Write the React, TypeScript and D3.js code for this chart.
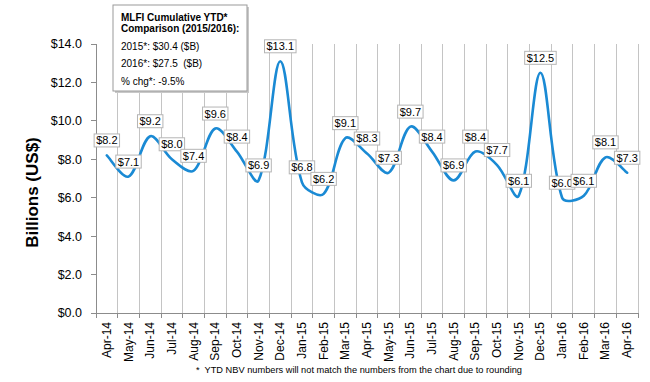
import React, { useEffect, useRef } from "react";
import * as d3 from "d3";

const months = ["Apr-14","May-14","Jun-14","Jul-14","Aug-14","Sep-14","Oct-14","Nov-14","Dec-14","Jan-15","Feb-15","Mar-15","Apr-15","May-15","Jun-15","Jul-15","Aug-15","Sep-15","Oct-15","Nov-15","Dec-15","Jan-16","Feb-16","Mar-16","Apr-16"];
const values = [8.2,7.1,9.2,8.0,7.4,9.6,8.4,6.9,13.1,6.8,6.2,9.1,8.3,7.3,9.7,8.4,6.9,8.4,7.7,6.1,12.5,6.0,6.1,8.1,7.3];
const yTicks = [0,2,4,6,8,10,12,14];
const legendTitle = ["MLFI Cumulative YTD*", "Comparison (2015/2016):"];
const legendLines = ["2015*: $30.4 ($B)", "2016*: $27.5  ($B)", "% chg*: -9.5%"];
const yTitle = "Billions (US$)";
const footnote = "*  YTD NBV numbers will not match the numbers from the chart due to rounding";

// Excel-style smoothed line: Bezier segments with chord-weighted tangents
function smoothPath(pts: [number, number][]) {
  const p = d3.path();
  const n = pts.length;
  const dist = (a: [number, number], b: [number, number]) => Math.hypot(b[0] - a[0], b[1] - a[1]);
  p.moveTo(pts[0][0], pts[0][1]);
  for (let i = 0; i < n - 1; i++) {
    const p0 = pts[Math.max(0, i - 1)], p1 = pts[i], p2 = pts[i + 1], p3 = pts[Math.min(n - 1, i + 2)];
    const d01 = dist(p0, p1), d12 = dist(p1, p2), d23 = dist(p2, p3);
    const f1 = d01 + d12 > 0 ? d12 / (d01 + d12) : 0.5;
    const f2 = d12 + d23 > 0 ? d12 / (d12 + d23) : 0.5;
    const k1 = i === 0 ? 1 / 6 : f1 / 3;
    const k2 = i + 2 > n - 1 ? 1 / 6 : f2 / 3;
    const c1x = p1[0] + (p2[0] - p0[0]) * k1, c1y = p1[1] + (p2[1] - p0[1]) * k1;
    const c2x = p2[0] - (p3[0] - p1[0]) * k2, c2y = p2[1] - (p3[1] - p1[1]) * k2;
    p.bezierCurveTo(c1x, c1y, c2x, c2y, p2[0], p2[1]);
  }
  return p.toString();
}

export default function App() {
  const ref = useRef<SVGSVGElement>(null);
  useEffect(() => {
    const svg = d3.select(ref.current);
    svg.selectAll("*").remove();
    const W = 650, H = 382;
    const left = 96, right = 638, top = 44, bottom = 313;
    const font = "Liberation Sans, Arial, sans-serif";
    const x = d3.scaleBand<string>().domain(months).range([left, right]).padding(0);
    const y = d3.scaleLinear().domain([0, 14]).range([bottom, top]);
    const cx = (m: string) => (x(m) as number) + x.bandwidth() / 2;

    svg.append("rect").attr("width", W).attr("height", H).attr("fill", "#fff");

    const bounds = months.map((m) => (x(m) as number) + x.bandwidth());
    svg.append("g").selectAll("line").data(bounds).join("line")
      .attr("x1", (d) => d).attr("x2", (d) => d)
      .attr("y1", top).attr("y2", bottom)
      .attr("stroke", "#c4c4c4").attr("stroke-width", 1).attr("shape-rendering", "crispEdges");

    const axisColor = "#8c8c8c";
    svg.append("line").attr("x1", left).attr("x2", left).attr("y1", top).attr("y2", bottom)
      .attr("stroke", axisColor).attr("shape-rendering", "crispEdges");
    svg.append("line").attr("x1", left).attr("x2", right).attr("y1", bottom).attr("y2", bottom)
      .attr("stroke", axisColor).attr("shape-rendering", "crispEdges");
    svg.append("g").selectAll("line").data(yTicks).join("line")
      .attr("x1", left - 5).attr("x2", left).attr("y1", (d) => y(d)).attr("y2", (d) => y(d))
      .attr("stroke", axisColor).attr("shape-rendering", "crispEdges");
    svg.append("g").selectAll("line").data([left, ...bounds]).join("line")
      .attr("x1", (d) => d).attr("x2", (d) => d).attr("y1", bottom).attr("y2", bottom + 5)
      .attr("stroke", axisColor).attr("shape-rendering", "crispEdges");

    svg.append("g").selectAll("text").data(yTicks).join("text")
      .attr("x", left - 14).attr("y", (d) => y(d)).attr("dy", "0.35em")
      .attr("text-anchor", "end").attr("font-family", font).attr("font-size", 12.5)
      .attr("fill", "#000").text((d) => "$" + d.toFixed(1));

    svg.append("g").selectAll("text").data(months).join("text")
      .attr("transform", (d) => `translate(${cx(d) + 4},${bottom + 9}) rotate(-90)`)
      .attr("text-anchor", "end").attr("font-family", font).attr("font-size", 12)
      .attr("fill", "#000").text((d) => d);

    svg.append("text")
      .attr("transform", `translate(38,${(top + bottom) / 2 + 14}) rotate(-90)`)
      .attr("text-anchor", "middle").attr("font-family", font).attr("font-size", 17)
      .attr("font-weight", "bold").attr("fill", "#000").text(yTitle);

    const pts: [number, number][] = values.map((v, i) => [cx(months[i]), y(v)]);
    svg.append("path").attr("d", smoothPath(pts))
      .attr("fill", "none").attr("stroke", "#1a8ad4").attr("stroke-width", 2.6)
      .attr("stroke-linecap", "round");

    const lg = svg.append("g");
    values.forEach((v, i) => {
      const px = cx(months[i]);
      const py = y(v) - 15;
      const g = lg.append("g");
      const rect = g.append("rect");
      const t = g.append("text").attr("x", px).attr("y", py).attr("dy", "0.36em")
        .attr("text-anchor", "middle").attr("font-family", font).attr("font-size", 11)
        .attr("fill", "#000").text("$" + v.toFixed(1));
      const w = (t.node() as SVGTextElement).getComputedTextLength() + 4;
      rect.attr("x", px - w / 2).attr("y", py - 6.5).attr("width", w).attr("height", 13)
        .attr("fill", "#fff").attr("stroke", "#b5b5b5").attr("stroke-width", 1);
    });

    const bx = 113, by = 5, bw = 134, bh = 86;
    svg.append("rect").attr("x", bx + 2).attr("y", by + 2).attr("width", bw).attr("height", bh)
      .attr("fill", "#c8c8c8");
    svg.append("rect").attr("x", bx).attr("y", by).attr("width", bw).attr("height", bh)
      .attr("fill", "#fff").attr("stroke", "#9a9a9a").attr("stroke-width", 1);
    const tys = [20.5, 31.5];
    legendTitle.forEach((s, i) => {
      svg.append("text").attr("x", 121).attr("y", tys[i]).attr("font-family", font)
        .attr("font-size", 10).attr("font-weight", "bold").attr("fill", "#000").text(s);
    });
    const lys = [50, 67, 85];
    legendLines.forEach((s, i) => {
      svg.append("text").attr("x", 121).attr("y", lys[i]).attr("font-family", font)
        .attr("font-size", 10).attr("fill", "#000")
        .style("white-space", "pre").text(s);
    });

    svg.append("text").attr("x", 196).attr("y", 373).attr("font-family", font)
      .attr("font-size", 9).attr("fill", "#000").style("white-space", "pre")
      .attr("textLength", 326).attr("lengthAdjust", "spacingAndGlyphs").text(footnote);
  }, []);
  return (
    <svg ref={ref} width={650} height={382}
      style={{ position: "absolute", left: 0, top: 0, display: "block" }} />
  );
}
